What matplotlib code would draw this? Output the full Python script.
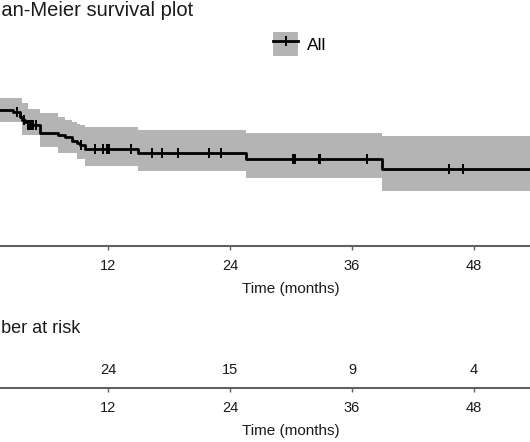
import numpy as np
import matplotlib
matplotlib.use("Agg")
import matplotlib.pyplot as plt
from matplotlib.patches import Patch
from matplotlib.lines import Line2D

plt.rcParams['font.family'] = ['Liberation Sans', 'DejaVu Sans']

# Kaplan-Meier steps: time (months), survival, upper / lower CI
step_t = [0.0, 0.5, 0.9, 1.2, 2.65, 3.34, 3.54, 3.84, 4.1, 5.31, 7.08, 7.77,
          8.46, 8.95, 9.24, 9.73, 14.95, 25.57, 38.94, 60.0]
surv = [1.0, 0.88, 0.78, 0.692, 0.682, 0.660, 0.645, 0.631, 0.615, 0.579, 0.564,
        0.554, 0.538, 0.523, 0.513, 0.497, 0.477, 0.446, 0.395, 0.395]
upper = [1.0, 0.95, 0.86, 0.754, 0.754, 0.754, 0.728, 0.728, 0.697, 0.677, 0.656,
         0.645, 0.631, 0.620, 0.615, 0.605, 0.590, 0.574, 0.559, 0.559]
lower = [1.0, 0.80, 0.70, 0.631, 0.631, 0.631, 0.564, 0.564, 0.564, 0.503, 0.477,
         0.477, 0.477, 0.446, 0.446, 0.410, 0.385, 0.349, 0.282, 0.282]

# censored observations (months)
censor_t = [3.05, 3.75, 4.15, 4.3, 4.45, 4.65, 4.9, 9.35, 10.72, 11.5, 11.9, 12.1,
            14.26, 16.3, 17.3, 18.9, 21.9, 23.1, 30.2, 30.4, 32.8, 32.9, 37.5,
            45.5, 46.9]

# number at risk table
risk_t = [12, 24, 36, 48]
risk_n = [24, 15, 9, 4]
xticks = [12, 24, 36, 48]

W, H = 530, 442
fig = plt.figure(figsize=(W / 100, H / 100), dpi=100)

# main axes - left part cropped off on purpose (like the reference)
x0 = -14
x1 = 596
ax = fig.add_axes([x0 / W, (H - 246) / H, (x1 - x0) / W, 196 / H])
ax.fill_between(step_t, lower, upper, step='post', color='#b4b4b4', lw=0)
ax.step(step_t, surv, where='post', color='black', lw=2.0)
idx = np.searchsorted(step_t, censor_t, side='right') - 1
ax.plot(censor_t, np.array(surv)[idx], ls='none', marker='|', ms=7.5,
        mew=1.4, color='black')

ax.set_xlim(0, 60)
ax.set_ylim(0, 1)
for s in ['top', 'right', 'left']:
    ax.spines[s].set_visible(False)
ax.spines['bottom'].set_color('#606060')
ax.spines['bottom'].set_linewidth(1.5)
ax.set_yticks([])
ax.set_xticks(xticks)
ax.tick_params(axis='x', length=3, width=1, color='#606060', pad=6.5,
               labelsize=10.5, labelcolor='#1a1a1a')
ax.set_xlabel('Time (months)', fontsize=11, color='#1a1a1a', labelpad=6)

# legend
h = (Patch(facecolor='#b4b4b4', edgecolor='none'),
     Line2D([], [], color='black', lw=2.0, marker='|', ms=7.5, mew=1.4))
fig.legend([h], ['All'], loc='upper left', bbox_to_anchor=(273 / W, 1 - 32 / H),
           frameon=False, fontsize=12.5, handlelength=1.45, handleheight=1.75,
           borderpad=0, borderaxespad=0, handletextpad=0.5)

fig.text(193 / W, 1 - 16 / H, 'Kaplan-Meier survival plot', ha='right',
         va='baseline', fontsize=14.5, color='#1a1a1a')

# number at risk axes
ax2 = fig.add_axes([x0 / W, (H - 388) / H, (x1 - x0) / W, 36 / H])
for t, n in zip(risk_t, risk_n):
    ax2.text(t, 0.5, str(n), ha='center', va='center', fontsize=10.5,
             color='#1a1a1a')
ax2.set_xlim(0, 60)
ax2.set_ylim(0, 1)
for s in ['top', 'right', 'left']:
    ax2.spines[s].set_visible(False)
ax2.spines['bottom'].set_color('#606060')
ax2.spines['bottom'].set_linewidth(1.5)
ax2.set_yticks([])
ax2.set_xticks(xticks)
ax2.tick_params(axis='x', length=3, width=1, color='#606060', pad=6.5,
                labelsize=10.5, labelcolor='#1a1a1a')
ax2.set_xlabel('Time (months)', fontsize=11, color='#1a1a1a', labelpad=6)

fig.text(80 / W, 1 - 333 / H, 'Number at risk', ha='right', va='baseline',
         fontsize=13, color='#1a1a1a')

fig.savefig('out.png', dpi=100)
